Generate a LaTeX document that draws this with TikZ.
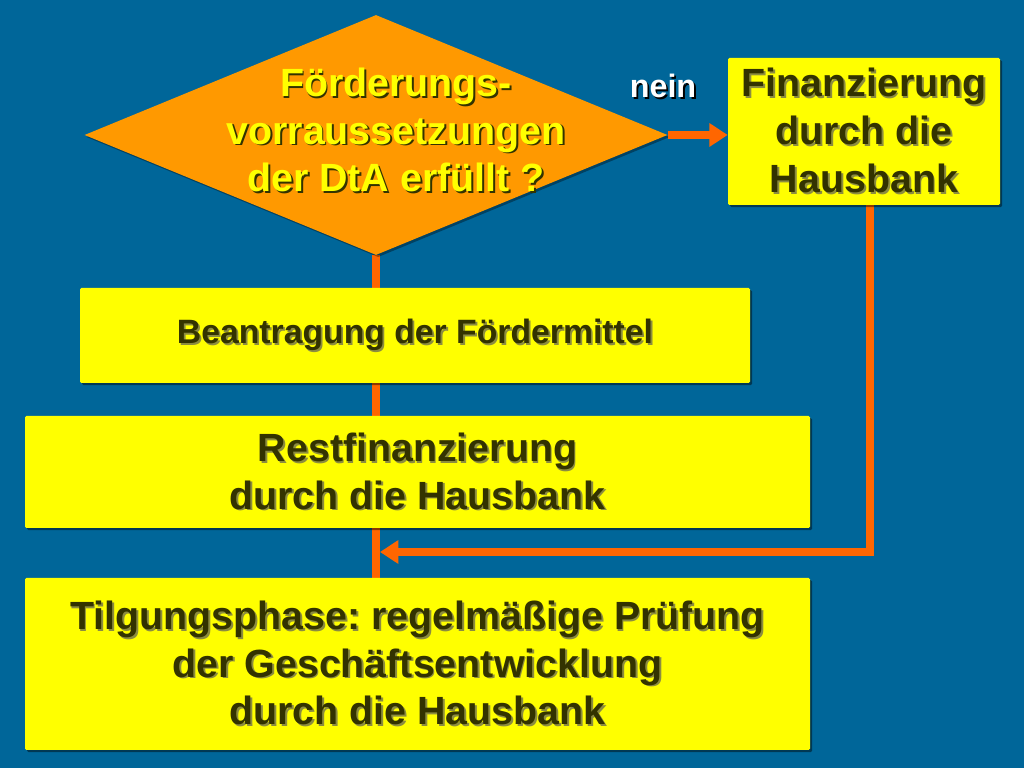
\documentclass[tikz,border=0pt]{standalone}
\usepackage{fontspec}
\setmainfont{Liberation Sans}
\usepackage{xcolor}
\usepackage{tikz}
\usetikzlibrary{arrows.meta}
\usetikzlibrary{shapes.geometric}
\usetikzlibrary{shadows}
\definecolor{slideblue}{HTML}{006699}
\definecolor{boxyellow}{HTML}{FFFF00}
\definecolor{condorange}{HTML}{FF9900}
\definecolor{lineorange}{HTML}{FF6600}
\definecolor{textolive}{HTML}{333300}
\definecolor{shadeolive}{HTML}{8C8C40}
\pgfdeclarelayer{bg}
\pgfsetlayers{bg,main}
\frenchspacing
\newcommand{\slidefont}{\fontsize{28}{34}\selectfont\bfseries}
\newcommand{\slidefontsmall}{\fontsize{24}{29}\selectfont\bfseries}
\newcommand{\slidefontnein}{\fontsize{23}{28}\selectfont\bfseries}
\newcommand{\shtxt}[2]{\makebox[0pt][l]{\hspace{1.3pt}\raisebox{-1.3pt}{\textcolor{#1}{#2}}}#2}
\tikzset{>={Triangle[length=13pt, width=16pt]}}
\tikzstyle{box} = [rectangle, fill = boxyellow, draw = none, text = textolive, align = center, inner sep = 0pt, rounded corners = 1pt, drop shadow = {shadow xshift = 1.5pt, shadow yshift = -1.5pt, fill = black, opacity = 0.45}]
\tikzstyle{flow} = [->, draw = lineorange, line width = 5.5pt]

\begin{document}
\begin{tikzpicture}
\begin{pgfonlayer}{bg}
\fill [slideblue] (0, 0) rectangle (25.6, 19.2);
\end{pgfonlayer}
\useasboundingbox (0, 0) rectangle (25.6, 19.2);
\node [diamond, fill = condorange, inner sep = 0pt, minimum width = 14.575cm, minimum height = 6cm, drop shadow = {shadow xshift = 1.5pt, shadow yshift = -1.5pt, fill = black, opacity = 0.35}, label = {[name = condtext, text = boxyellow, align = center, font = \slidefont, xshift = 0.5cm, yshift = 0.1cm]center:\shtxt{textolive}{Förderungs-}\\\shtxt{textolive}{vorraussetzungen}\\\shtxt{textolive}{der DtA erfüllt ?}}] (cond) at (9.4, 15.825) {};
\node [text = white, font = \slidefontnein] (nein) at (16.575, 17.025) {\shtxt{black}{nein}};
\node [box, minimum width = 6.8cm, minimum height = 3.675cm, font = \slidefont] (fin) at (21.6, 15.9125) {\shtxt{shadeolive}{Finanzierung}\\\shtxt{shadeolive}{durch die}\\\shtxt{shadeolive}{Hausbank}};
\node [box, minimum width = 16.75cm, minimum height = 2.375cm, font = \slidefontsmall] (antrag) at (10.375, 10.8125) {\shtxt{shadeolive}{Beantragung der Fördermittel}};
\node [box, minimum width = 19.625cm, minimum height = 2.8cm, font = \slidefont] (rest) at (10.4375, 7.4) {\shtxt{shadeolive}{Restfinanzierung}\\\shtxt{shadeolive}{durch die Hausbank}};
\node [box, minimum width = 19.625cm, minimum height = 4.3cm, font = \slidefont] (tilg) at (10.4375, 2.6) {\shtxt{shadeolive}{Tilgungsphase: regelmäßige Prüfung}\\\shtxt{shadeolive}{der Geschäftsentwicklung}\\\shtxt{shadeolive}{durch die Hausbank}};
\coordinate (back) at (0, 5.4);
\begin{pgfonlayer}{bg}
\draw [flow, -] (cond.south) -- (cond.south |- tilg.north);
\draw [flow] ([xshift = 0.15cm]fin.south) |- ([xshift = 0.1cm]cond.south |- back);
\end{pgfonlayer}
\draw [flow] (cond.east) -- (cond.east -| fin.west);
\end{tikzpicture}
\end{document}
